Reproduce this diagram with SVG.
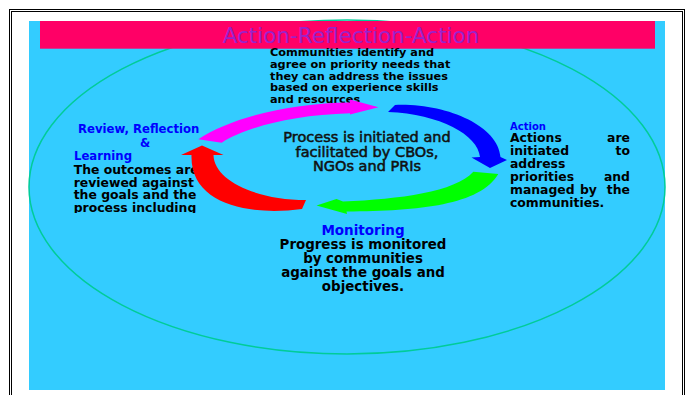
<svg xmlns="http://www.w3.org/2000/svg" width="686" height="395" viewBox="0 0 686 395">
<style>
.b{font-family:"DejaVu Sans",Verdana,sans-serif;font-weight:bold;fill:#000}
.lbl{font-family:"DejaVu Sans",Verdana,sans-serif;font-weight:bold;fill:#0000FF}
.ctr{font-family:"DejaVu Sans",Verdana,sans-serif;fill:#111;stroke:#111;stroke-width:0.55}
.frame{fill:none;stroke:#000;stroke-width:1}
</style>
<defs>
<clipPath id="leftclip"><rect x="60" y="163" width="160" height="50"/></clipPath>
</defs>
<rect width="686" height="395" fill="#fff"/>
<rect class="frame" x="9.5" y="9.5" width="675" height="400"/>
<rect class="frame" x="11.5" y="11.5" width="671" height="400"/>
<rect x="29" y="21" width="636" height="369" fill="#33CCFF"/>
<ellipse cx="347" cy="187" rx="318" ry="167" fill="none" stroke="#00CC99" stroke-width="1.5"/>
<g id="title">
<rect x="40" y="21" width="615" height="27.7" fill="#FF0066"/>
<text x="351" y="42.7" text-anchor="middle" font-family="DejaVu Sans, sans-serif" font-size="21.5" fill="#9922CC">Action-Reflection-Action</text>
</g>
<g id="node-plan">
<text class="b" font-size="11.3"><tspan x="270" y="56.3">Communities identify and</tspan><tspan x="270" y="67.9">agree on priority needs that</tspan><tspan x="270" y="79.5">they can address the issues</tspan><tspan x="270" y="91.1">based on experience skills</tspan><tspan x="270" y="102.7">and resources</tspan></text>
</g>
<g id="node-center">
<text class="ctr" font-size="14.5" text-anchor="middle"><tspan x="367" y="141.7">Process is initiated and</tspan><tspan x="367" y="156.7">facilitated by CBOs,</tspan><tspan x="367" y="171.2">NGOs and PRIs</tspan></text>
</g>
<g id="node-review">
<text class="lbl" font-size="11.7" x="78" y="133">Review, Reflection</text>
<text class="lbl" font-size="11.7" x="145" y="146.5" text-anchor="middle">&amp;</text>
<text class="lbl" font-size="11.7" x="74" y="160">Learning</text>
<g clip-path="url(#leftclip)">
<text class="b" font-size="12.4"><tspan x="73.7" y="174">The outcomes are</tspan><tspan x="73.7" y="186.6">reviewed against</tspan><tspan x="73.7" y="199.2">the goals and the</tspan><tspan x="73.7" y="211.8">process including</tspan></text>
</g>
</g>
<g id="node-action">
<text class="lbl" font-size="10" x="510" y="130">Action</text>
<g class="b" font-size="12.4">
<text x="510" y="141.7">Actions</text><text x="630" y="141.7" text-anchor="end">are</text>
<text x="510" y="154.7">initiated</text><text x="630" y="154.7" text-anchor="end">to</text>
<text x="510" y="167.6">address</text>
<text x="510" y="180.5">priorities</text><text x="630" y="180.5" text-anchor="end">and</text>
<text x="510" y="193.5">managed</text><text x="580" y="193.5">by</text><text x="630" y="193.5" text-anchor="end">the</text>
<text x="510" y="206.5">communities.</text>
</g>
</g>
<g id="node-monitoring">
<text class="lbl" font-size="13.5" x="363" y="235" text-anchor="middle">Monitoring</text>
<text class="b" font-size="13.4" text-anchor="middle"><tspan x="363" y="249.3">Progress is monitored</tspan><tspan x="363" y="263.3">by communities</tspan><tspan x="363" y="277.3">against the goals and</tspan><tspan x="363" y="291.3">objectives.</tspan></text>
</g>
<g id="connectors">
<path fill="#FF00FF" d="M198.3,139.3 C230,118 290,103 350,102.5 L350,99.5 L378.5,107.3 L350,114.5 L350,113.3 C290,115 245,128 221.7,142.7 Z"/>
<path fill="#0000FF" d="M395,105 C445,103 498,125 500.5,157 L507,160 L490,168 L471.5,157.5 L480,157 C478,135 440,114 388,112 Z"/>
<path fill="#00FF00" d="M498.3,174 C480,205 420,211 346.5,211.5 L347,214 L316.5,205.5 L336.5,199 L343,201.5 C400,199 455,192 473.3,171.7 Z"/>
<path fill="#FF0000" d="M302,209 C250,216 190,205 191.5,155 L181,155 L202,145.5 L223.5,155 L213.5,155 C214,180 255,200 306,200 Z"/>
</g>
</svg>
